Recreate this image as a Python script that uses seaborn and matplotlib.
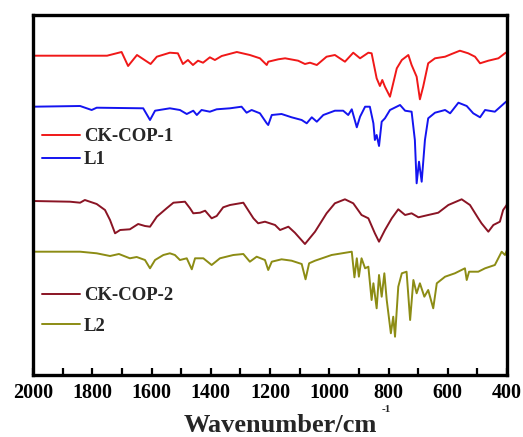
import numpy as np
import pandas as pd
import matplotlib
matplotlib.use("Agg")
import matplotlib.pyplot as plt
from matplotlib.ticker import MultipleLocator
import seaborn as sns

# ---------------- data (arbitrary offset transmittance) -------------
ck1_wn = [2000, 1750, 1701, 1679, 1649, 1603, 1582, 1538, 1511, 1494, 1477, 1460, 1443, 1426,
          1403, 1386, 1363, 1312, 1268, 1234, 1211, 1206, 1172, 1149, 1105, 1082, 1065, 1042,
          1009, 981, 947, 919, 896, 868, 857, 840, 829, 821, 812, 795, 772, 755, 733, 722,
          705, 694, 683, 666, 643, 609, 587, 559, 531, 508, 491, 463, 429, 407, 400]
ck1_t = [319.3, 319.3, 323, 309, 320, 311, 318.3, 322.3, 321.7, 311, 315, 310, 314.3, 312.3,
         317.7, 315, 319, 323, 320, 316.7, 310, 313.3, 315.7, 316.7, 314.3, 311, 312.3, 310,
         318.3, 320, 313.3, 322.3, 316.7, 322.3, 321.7, 296.7, 289, 295, 288.3, 278.3, 306.7, 315, 320, 310,
         298.3, 275.7, 288.3, 311.7, 316.7, 318.3, 321, 324.3, 321.7, 318.3, 311.7, 314.3, 316.7, 321.7, 323]

l1_wn = [2000, 1841, 1802, 1785, 1628, 1605, 1588, 1538, 1504, 1481, 1459, 1447, 1431, 1403,
         1380, 1335, 1296, 1279, 1262, 1234, 1211, 1206, 1194, 1161, 1127, 1093, 1076, 1059,
         1042, 1020, 981, 953, 936, 924, 907, 896, 879, 863, 851, 846, 840, 832, 823, 812,
         795, 761, 744, 722, 711, 705, 697, 688, 677, 666, 643, 609, 592, 564, 536, 514,
         491, 474, 441, 407, 400]
l1_t = [268.3, 269, 265, 267.3, 266.7, 255, 264.3, 266.7, 265, 261, 264.3, 260, 265, 263.3,
        265.7, 266.7, 268.3, 262.3, 265, 261.7, 251.7, 250, 260, 261, 257.7, 255, 251.7, 257.7,
        253.3, 260, 264.3, 264.3, 260, 265.7, 247.7, 258.3, 268.3, 268.3, 251.7, 235, 240, 229, 253.3, 256.7,
        265, 270, 264.3, 263.3, 235, 191.7, 213.3, 193.3, 235, 256.7, 262.3, 265, 261.7, 272.3, 269, 261.7,
        257.7, 265, 263.3, 272.3, 274]

ck2_wn = [2000, 1875, 1841, 1825, 1785, 1757, 1740, 1723, 1706, 1673, 1645, 1622, 1605, 1582,
          1549, 1526, 1487, 1470, 1459, 1436, 1419, 1397, 1380, 1358, 1335, 1290, 1256, 1240,
          1217, 1183, 1166, 1138, 1116, 1082, 1048, 1009, 981, 947, 919, 891, 868, 846, 832,
          812, 789, 767, 744, 722, 699, 666, 632, 598, 553, 525, 497, 486, 463, 446, 424, 413,
          401, 400]
ck2_t = [174, 173.3, 172.3, 175, 171, 165, 155, 141.7, 145, 145.7, 151, 149, 148.3, 158.3,
         166.7, 172.3, 173.3, 166.7, 161.7, 162.3, 164.3, 156.7, 159, 167.7, 170, 172.3, 156.7, 151.7,
         153.3, 150, 145, 148.3, 142.3, 131, 143.3, 161.7, 171.7, 175.7, 171.7, 160, 156.7, 141.7, 133.3,
         145, 156.7, 165.7, 160, 161.7, 157.7, 160, 162.3, 170, 175.7, 170, 156.7, 151.7, 143.3, 150, 153.3, 165,
         170, 172]

l2_wn = [2000, 1841, 1785, 1740, 1710, 1673, 1650, 1622, 1605, 1588, 1560, 1538, 1521, 1504, 1481,
         1464, 1453, 1425, 1397, 1369, 1324, 1290, 1268, 1245, 1217, 1206, 1194, 1161, 1127,
         1093, 1080, 1068, 1048, 992, 924, 915, 907, 900, 891, 879, 868, 857, 851, 840, 832,
         823, 814, 806, 792, 784, 778, 767, 755, 739, 727, 716, 705, 694, 679, 666, 649, 637,
         609, 576, 542, 536, 528, 497, 474, 441, 418, 407, 400]
l2_t = [123.3, 123.3, 121.7, 119, 121, 116.7, 118, 115, 106.7, 115, 120, 121.7, 120, 115, 116.7,
        105.7, 116.7, 116.7, 110, 116.7, 120, 121, 113.3, 118.3, 115, 105, 113.3, 115.7, 114.3,
        111, 95.7, 111.7, 114.3, 120, 123.3, 97.7, 116.7, 98.3, 116.7, 106.7, 108.3, 75, 91.7, 66.7, 100,
        78.3, 101.7, 75, 41.7, 58.3, 38.3, 88.3, 101.7, 103.3, 55, 95, 81.7, 91.7, 78.3, 85, 66.7, 91.7,
        98.3, 101.7, 106.7, 95, 103.3, 103.3, 106.7, 110, 123.3, 120, 125]

series_names = ["CK-COP-1", "L1", "CK-COP-2", "L2"]
series_colors = ["#f01818", "#1414f0", "#8a1424", "#8c8c14"]

# ---------------- style ----------------
sns.set_style("ticks")
plt.rcParams["font.family"] = ["Liberation Serif", "DejaVu Serif"]
plt.rcParams["font.weight"] = "bold"

fig = plt.figure(figsize=(5.23, 4.37), dpi=100)
ax = fig.add_axes([33 / 523, 1 - 375 / 437, 474 / 523, 360 / 437])

frames = [
    pd.DataFrame({"wn": ck1_wn, "t": ck1_t}),
    pd.DataFrame({"wn": l1_wn, "t": l1_t}),
    pd.DataFrame({"wn": ck2_wn, "t": ck2_t}),
    pd.DataFrame({"wn": l2_wn, "t": l2_t}),
]
lines = []
for df, name, col in zip(frames, series_names, series_colors):
    sns.lineplot(data=df, x="wn", y="t", ax=ax, color=col, linewidth=1.4,
                 estimator=None, sort=False, legend=False)
    lines.append(ax.lines[-1])

ax.set_xlim(2000, 400)
ax.set_ylim(0, 360)
ax.xaxis.set_major_locator(MultipleLocator(200))
ax.xaxis.set_minor_locator(MultipleLocator(100))
ax.set_yticks([])
ax.tick_params(axis="x", which="both", direction="in", length=5, width=1.6,
               top=False, bottom=True, labelsize=14.5, pad=6, colors="black")
for lab in ax.get_xticklabels():
    lab.set_fontweight("bold")
for s in ax.spines.values():
    s.set_linewidth(2.4)
    s.set_color("black")
ax.set_xlabel("")
ax.set_ylabel("")

leg1 = ax.legend(lines[:2], series_names[:2], loc="center left",
                 bbox_to_anchor=(0.019, 0.63), frameon=False, borderpad=0,
                 borderaxespad=0, handlelength=2.0, handletextpad=0.25,
                 labelspacing=0.3, prop={"family": "Liberation Serif", "weight": "bold", "size": 13.5})
ax.add_artist(leg1)
leg2 = ax.legend(lines[2:], series_names[2:], loc="center left",
                 bbox_to_anchor=(0.019, 0.178), frameon=False, borderpad=0,
                 borderaxespad=0, handlelength=2.0, handletextpad=0.25,
                 labelspacing=0.72, prop={"family": "Liberation Serif", "weight": "bold", "size": 13.5})

fig.text(280 / 523, 1 - 425 / 437, "Wavenumber/cm", ha="center", va="center",
         fontsize=19, fontweight="bold", family="Liberation Serif")
fig.text(386 / 523, 1 - 410 / 437, "-1", ha="center", va="center",
         fontsize=8, fontweight="bold", family="Liberation Serif")

fig.savefig("out.png", dpi=100)
